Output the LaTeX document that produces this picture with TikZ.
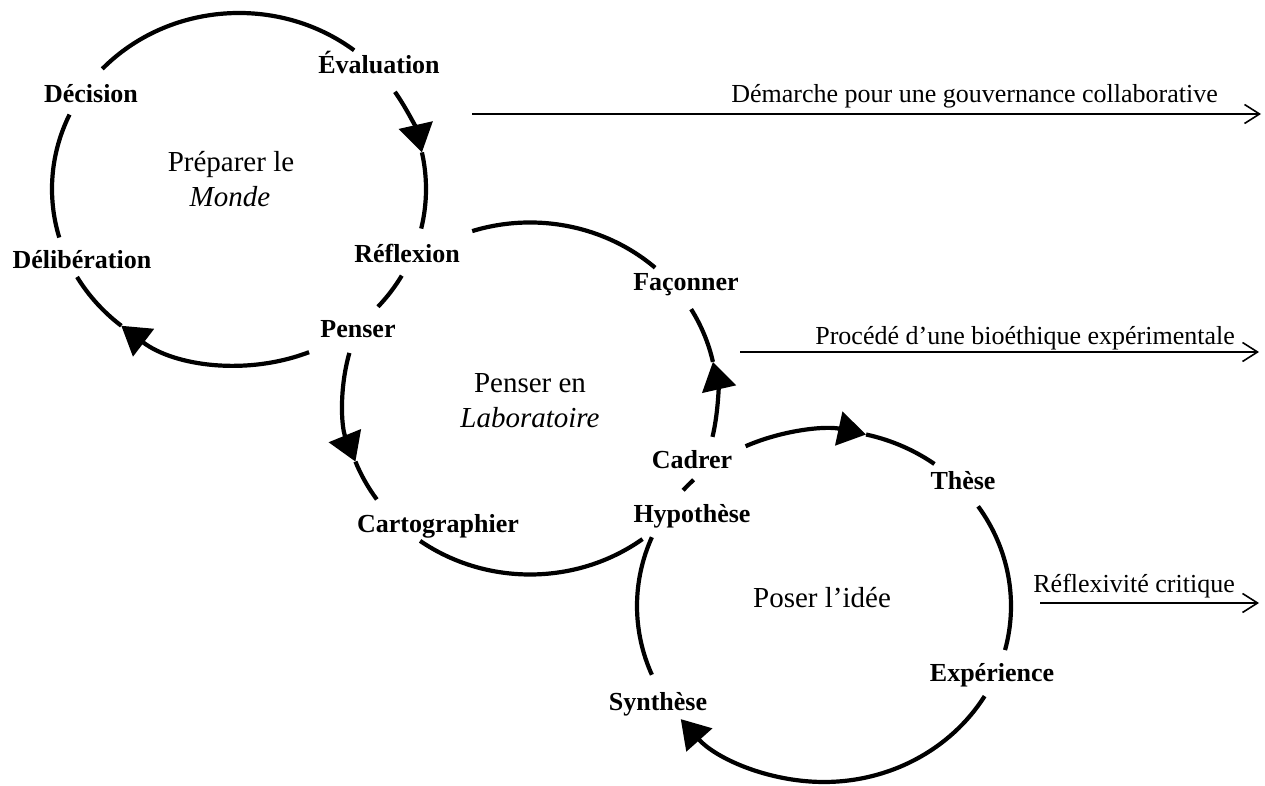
\documentclass[tikz,border=0pt]{standalone}
\usepackage{fontspec}
\setmainfont{Liberation Serif}
\usetikzlibrary{arrows.meta,calc}

\begin{document}
\begin{tikzpicture}[x=1pt,y=1pt,
  ring/.style={line width=4.2pt},
  flow/.style={ring,-{Triangle[length=28pt,width=34pt]}},
  stage/.style={font=\fontsize{26}{31}\selectfont\bfseries,anchor=base,inner sep=0pt},
  core/.style={font=\fontsize{29}{35}\selectfont,anchor=base,inner sep=0pt},
  outtext/.style={font=\fontsize{26}{31}\selectfont,anchor=base east,inner sep=0pt},
  outarrow/.style={line width=1.6pt,-{Straight Barb[length=15pt,width=19pt]}}
]
\useasboundingbox (0,0) rectangle (1265,786);
\fill[white] (0,0) rectangle (1265,786);

% ellipse centres and radii shared by the three cycles
\def\rx{187pt}
\def\ry{176pt}
\coordinate (c1) at (239,597);
\coordinate (c2) at (530,387.5);
\coordinate (c3) at (824,180);

% ---- cycle 1 : Préparer le Monde (clockwise)
\draw[ring] ($(c1)+(52:187 and 176)$) arc[start angle=52,end angle=137,x radius=\rx,y radius=\ry];
\draw[flow] ($(c1)+(33.5:187 and 176)$) arc[start angle=33.5,end angle=12,x radius=\rx,y radius=\ry];
\draw[ring] ($(c1)+(12:187 and 176)$) arc[start angle=12,end angle=-13,x radius=\rx,y radius=\ry];
\draw[ring] ($(c1)+(-29.5:187 and 176)$) arc[start angle=-29.5,end angle=-42,x radius=\rx,y radius=\ry];
\draw[flow] ($(c1)+(-68:187 and 176)$) arc[start angle=-68,end angle=-129,x radius=\rx,y radius=\ry];
\draw[ring] ($(c1)+(-129:187 and 176)$) arc[start angle=-129,end angle=-150,x radius=\rx,y radius=\ry];
\draw[ring] ($(c1)+(155:187 and 176)$) arc[start angle=155,end angle=196,x radius=\rx,y radius=\ry];

% ---- cycle 2 : Penser en Laboratoire (counter-clockwise)
\draw[ring] ($(c2)+(48:187 and 176)$) arc[start angle=48,end angle=108,x radius=\rx,y radius=\ry];
\draw[flow] ($(c2)+(-12.6:187 and 176)$) arc[start angle=-12.6,end angle=12,x radius=\rx,y radius=\ry];
\draw[ring] ($(c2)+(12:187 and 176)$) arc[start angle=12,end angle=30.5,x radius=\rx,y radius=\ry];
\draw[flow] ($(c2)+(165:187 and 176)$) arc[start angle=165,end angle=201,x radius=\rx,y radius=\ry];
\draw[ring] ($(c2)+(201:187 and 176)$) arc[start angle=201,end angle=215,x radius=\rx,y radius=\ry];
\draw[ring] ($(c2)+(234:187 and 176)$) arc[start angle=234,end angle=307,x radius=\rx,y radius=\ry];

% ---- cycle 3 : Poser l'idée (clockwise)
\draw[flow] ($(c3)+(114.8:187 and 176)$) arc[start angle=114.8,end angle=77,x radius=\rx,y radius=\ry];
\draw[ring] ($(c3)+(77:187 and 176)$) arc[start angle=77,end angle=53.8,x radius=\rx,y radius=\ry];
\draw[ring] ($(c3)+(34.5:187 and 176)$) arc[start angle=34.5,end angle=-14.5,x radius=\rx,y radius=\ry];
\draw[flow] ($(c3)+(-30.8:187 and 176)$) arc[start angle=-30.8,end angle=-140,x radius=\rx,y radius=\ry];
\draw[ring] ($(c3)+(203:187 and 176)$) arc[start angle=203,end angle=157,x radius=\rx,y radius=\ry];
\draw[ring] ($(c3)+(134.2:187 and 176)$) arc[start angle=134.2,end angle=138.9,x radius=\rx,y radius=\ry];

% ---- stage labels
\node[stage] (evaluation) at (379,712) {Évaluation};
\node[stage] (decision) at (91,683) {Décision};
\node[stage] (deliberation) at (82,517) {Délibération};
\node[stage] (reflexion) at (407,523) {Réflexion};
\node[stage] (penser) at (358,448) {Penser};
\node[stage] (faconner) at (686,495) {Façonner};
\node[stage] (cadrer) at (692,317) {Cadrer};
\node[stage] (hypothese) at (692,263) {Hypothèse};
\node[stage] (cartographier) at (438,253) {Cartographier};
\node[stage] (these) at (963,296) {Thèse};
\node[stage] (experience) at (992,104) {Expérience};
\node[stage] (synthese) at (658,75) {Synthèse};

% ---- cycle titles
\node[core] (mondeA) at (231,614) {Préparer le};
\node[core] (mondeB) at (230,579) {\itshape Monde};
\node[core] (laboA) at (530,393) {Penser en};
\node[core] (laboB) at (530,358) {\itshape Laboratoire};
\node[core] (idee) at (822,178) {Poser l’idée};

% ---- outcomes
\coordinate (g0) at (472,672);
\coordinate (g1) at (1261,672);
\draw[outarrow] (g0) -- (g1);
\node[outtext] (gouv) at (1218,683) {Démarche pour une gouvernance collaborative};

\coordinate (b0) at (740,434);
\coordinate (b1) at (1259,434);
\draw[outarrow] (b0) -- (b1);
\node[outtext] (bio) at (1235,441) {Procédé d’une bioéthique expérimentale};

\coordinate (r0) at (1040,183);
\coordinate (r1) at (1259,183);
\draw[outarrow] (r0) -- (r1);
\node[outtext] (refl) at (1235,193) {Réflexivité critique};
\end{tikzpicture}
\end{document}
